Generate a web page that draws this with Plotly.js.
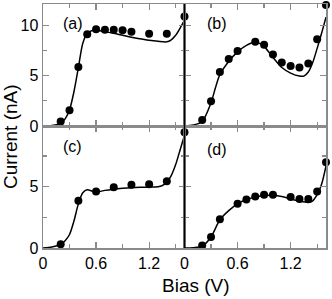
<!DOCTYPE html>
<html><head><meta charset="utf-8">
<script src="https://cdn.plot.ly/plotly-3.0.1.min.js"></script>
<style>html,body{margin:0;padding:0;background:#fff}#c{width:332px;height:299px}</style>
</head><body><div id="c"></div>
<script>
// Panel (a)
const xa = [0.2,0.3,0.4,0.5,0.6,0.7,0.8,0.9,1.0,1.2,1.4,1.6];
const ya = [0.45,1.55,5.85,9.1,9.6,9.55,9.55,9.5,9.35,9.15,9.15,10.85];
const cxa = [0,0.1,0.2,0.25,0.3,0.35,0.4,0.45,0.5,0.55,0.6,0.7,0.8,0.9,1.0,1.1,1.2,1.3,1.4,1.45,1.5,1.55,1.6];
const cya = [0,0.05,0.25,0.7,1.6,3.4,5.8,8.2,9.2,9.45,9.5,9.35,9.2,9.0,8.8,8.65,8.5,8.4,8.35,8.55,9.0,9.7,10.5];
// Panel (b)
const xb = [0.2,0.3,0.4,0.5,0.6,0.8,0.9,1.0,1.1,1.2,1.3,1.4,1.5,1.6];
const yb = [0.6,2.45,5.35,6.65,7.45,8.35,8.05,7.1,6.3,5.95,5.8,6.2,8.6,12.0];
const cxb = [0,0.1,0.2,0.3,0.35,0.4,0.5,0.6,0.7,0.8,0.85,0.9,1.0,1.1,1.2,1.3,1.35,1.4,1.45,1.5,1.55,1.6];
const cyb = [0,0.1,0.45,2.3,3.8,5.1,6.4,7.35,8.0,8.3,8.2,7.9,6.8,5.8,5.25,4.95,4.95,5.35,6.3,7.7,9.2,10.8];
// Panel (c)
const xc = [0.2,0.4,0.6,0.8,1.0,1.2,1.4,1.6];
const yc = [0.3,3.85,4.6,4.95,5.15,5.2,5.45,9.45];
const cxc = [0,0.1,0.2,0.25,0.3,0.35,0.4,0.45,0.5,0.55,0.6,0.7,0.8,0.9,1.0,1.1,1.2,1.3,1.35,1.4,1.45,1.5,1.55,1.6];
const cyc = [0,0.08,0.3,0.6,1.1,2.2,3.6,4.5,4.75,4.65,4.55,4.7,4.8,4.87,4.92,4.95,4.97,5.0,5.1,5.35,5.9,6.8,8.0,9.2];
// Panel (d)
const xd = [0.2,0.3,0.4,0.6,0.7,0.8,0.9,1.0,1.2,1.3,1.4,1.5,1.6];
const yd = [0.2,0.9,2.35,3.6,3.95,4.2,4.35,4.35,4.15,4.0,4.0,4.6,7.0];
const cxd = [0,0.1,0.2,0.3,0.4,0.5,0.6,0.7,0.8,0.9,1.0,1.1,1.2,1.3,1.4,1.45,1.5,1.55,1.6];
const cyd = [0,0.03,0.15,0.9,2.3,3.05,3.6,3.95,4.15,4.28,4.3,4.2,4.0,3.82,3.72,3.85,4.35,5.2,6.7];

const panelLabels = ['(a)','(b)','(c)','(d)'];
const xTickVals = [0,0.6,1.2];
const xTickText = ['0','0.6','1.2'];
const yTopVals = [0,5,10];
const yBotVals = [0,5];

const FONT = 'Liberation Sans, Arial, Helvetica, sans-serif';
const sets = [[xa,ya,cxa,cya,'x','y'],[xb,yb,cxb,cyb,'x2','y2'],[xc,yc,cxc,cyc,'x3','y3'],[xd,yd,cxd,cyd,'x4','y4']];
const data = [];
sets.forEach(s => {
  data.push({x:s[2], y:s[3], xaxis:s[4], yaxis:s[5], mode:'lines', type:'scatter',
    line:{color:'#000', width:1.5, shape:'spline', smoothing:0.8}, hoverinfo:'skip'});
  data.push({x:s[0], y:s[1], xaxis:s[4], yaxis:s[5], mode:'markers', type:'scatter', cliponaxis:false,
    marker:{color:'#000', size:8}});
});

const G = '#8a8a8a';
function xax(dom, anchor, labels){
  return {domain:dom, anchor:anchor, range:[0,1.6], tickmode:'array', tickvals:xTickVals, ticktext:xTickText,
    showticklabels:labels, ticks:'inside', ticklen:6, tickwidth:1.2, tickcolor:G,
    minor:{tickmode:'array', tickvals:[0.3,0.9,1.5], ticks:'inside', ticklen:4, tickwidth:1.2, tickcolor:G},
    showline:true, linecolor:G, linewidth:1.5, mirror:'ticks', zeroline:false, showgrid:false,
    tickfont:{family:FONT, size:16, color:'#000'}};
}
function yax(dom, anchor, range, vals, labels){
  return {domain:dom, anchor:anchor, range:range, tickmode:'array', tickvals:vals,
    showticklabels:labels, ticks:'inside', ticklen:6, tickwidth:1.2, tickcolor:G,
    minor:{tickmode:'array', tickvals:[2.5,7.5], ticks:'inside', ticklen:4, tickwidth:1.2, tickcolor:G},
    showline:true, linecolor:G, linewidth:1.5, mirror:'ticks', zeroline:false, showgrid:false,
    tickfont:{family:FONT, size:16, color:'#000'}};
}
const lab = (t,x,y) => ({text:t, x:x, y:y, xref:'paper', yref:'paper', showarrow:false,
  xanchor:'center', yanchor:'middle', font:{family:FONT, size:16, color:'#000'}});
const layout = {
  width:332, height:299, margin:{l:43, r:6, t:4, b:51}, showlegend:false,
  paper_bgcolor:'#fff', plot_bgcolor:'#fff', font:{family:FONT, color:'#000'},
  xaxis: xax([0,0.5],'y',false), yaxis: yax([0.5,1],'x',[0,12.1],yTopVals,true),
  xaxis2: xax([0.5,1],'y2',false), yaxis2: yax([0.5,1],'x2',[0,12.1],yTopVals,false),
  xaxis3: xax([0,0.5],'y3',true), yaxis3: yax([0,0.5],'x3',[0,9.95],yBotVals,true),
  xaxis4: xax([0.5,1],'y4',true), yaxis4: yax([0,0.5],'x4',[0,9.95],yBotVals,false),
  shapes:[{type:'line', xref:'paper', yref:'paper', x0:0.5, x1:0.5, y0:0, y1:1, line:{color:'#000', width:1.5}}],
  annotations:[
    lab(panelLabels[0],0.106,0.922), lab(panelLabels[1],0.614,0.922),
    lab(panelLabels[2],0.106,0.414), lab(panelLabels[3],0.614,0.402),
    {text:'Bias (V)', x:0.541, y:-0.152, xref:'paper', yref:'paper', showarrow:false, xanchor:'center', yanchor:'middle', font:{family:FONT, size:19, color:'#000'}},
    {text:'Current (nA)', x:-0.113, y:0.455, xref:'paper', yref:'paper', showarrow:false, textangle:-90, xanchor:'center', yanchor:'middle', font:{family:FONT, size:19, color:'#000'}}
  ]
};
Plotly.newPlot('c', data, layout, {staticPlot:true, displayModeBar:false});
</script></body></html>
